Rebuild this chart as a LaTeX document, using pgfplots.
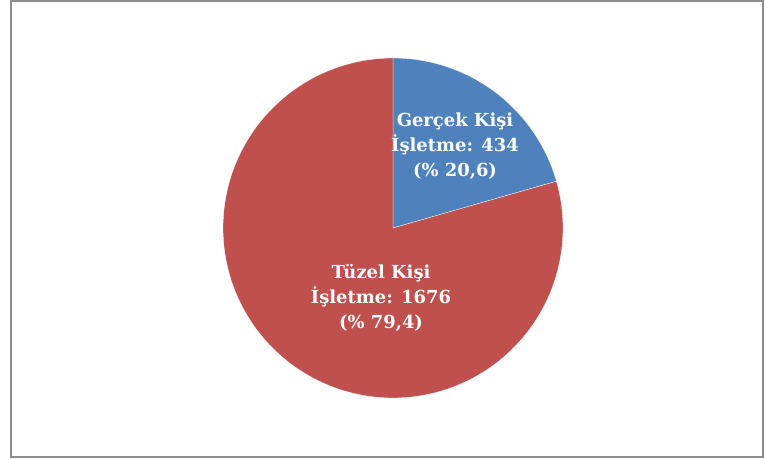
\documentclass[border=0pt]{standalone}
\usepackage{pgfplots}
\pgfplotsset{compat=1.18}
\usepackage{fontspec}
\setmainfont{DejaVu Serif}
\definecolor{pieblue}{HTML}{4F81BD}
\definecolor{piered}{HTML}{C0504D}
\definecolor{frame}{HTML}{8E8E8E}
\begin{document}
\begin{tikzpicture}
\pgfmathsetmacro\va{434}
\pgfmathsetmacro\vb{1676}
\pgfmathsetmacro\ang{360*(\va/(\va+\vb))}
\pgfmathsetmacro\startb{90-\ang}
\pgfmathsetmacro\endr{450-\ang}
\begin{axis}[
  x=1bp, y=1bp, scale only axis,
  xmin=0, xmax=765, ymin=0, ymax=459,
  hide axis, clip=false,
]
\path (rel axis cs:0,0) rectangle (rel axis cs:1,1);
\draw[frame, line width=1.6bp] (axis cs:11,458) rectangle (axis cs:763,2);
\addplot[fill=pieblue, draw=white, line width=0.3bp, domain=\startb:90, samples=100]
  ({393+170*cos(x)}, {231+170*sin(x)}) -- (axis cs:393,231) -- cycle;
\addplot[fill=piered, draw=white, line width=0.3bp, domain=90:\endr, samples=200]
  ({393+170*cos(x)}, {231+170*sin(x)}) -- (axis cs:393,231) -- cycle;
\node[align=center, text=white, font=\fontsize{18}{25}\selectfont\bfseries]
  at (axis cs:455,313) {Gerçek Kişi\\İşletme: 434\\(\% 20,6)};
\node[align=center, text=white, font=\fontsize{18}{25}\selectfont\bfseries]
  at (axis cs:381,161) {Tüzel Kişi\\İşletme: 1676\\(\% 79,4)};
\end{axis}
\end{tikzpicture}
\end{document}
